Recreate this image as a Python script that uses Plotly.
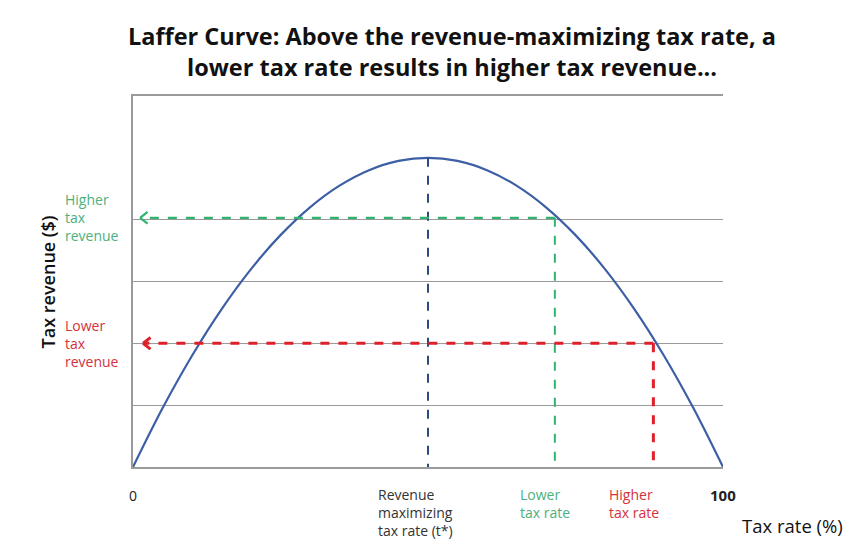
import plotly.graph_objects as go

# Laffer curve points (tax rate %, revenue units)
tax_rate = [0, 5, 10, 15, 20, 25, 30, 35, 40, 45, 50, 55, 60, 65, 70, 75, 80, 85, 90, 95, 100]
revenue = [0, 0.95, 1.8, 2.55, 3.2, 3.75, 4.2, 4.55, 4.8, 4.95, 5.0, 4.95, 4.8, 4.55, 4.2, 3.75, 3.2, 2.55, 1.8, 0.95, 0]

t_star = 50
peak_revenue = 5.0
lower_rate = 71.5
higher_revenue = 4.03
higher_rate = 88.2
lower_revenue = 2.0
green_head_x = 1.2
red_head_x = 1.7

grid_vals = [1, 2, 3, 4]

BLUE = "#3d5fa6"
NAVY = "#2f4a80"
GREEN = "#2fb36e"
RED = "#de2029"
GREEN_TXT = "#4cb07c"
RED_TXT = "#d4323c"
FONT = "Open Sans"

fig = go.Figure()

fig.add_trace(go.Scatter(x=tax_rate, y=revenue, mode="lines",
                         line=dict(color=BLUE, width=2.2, shape="spline"),
                         hoverinfo="skip"))
# t* vertical
fig.add_trace(go.Scatter(x=[t_star, t_star], y=[peak_revenue, 0], mode="lines",
                         line=dict(color=NAVY, width=2, dash="dash")))
# green lines
fig.add_trace(go.Scatter(x=[lower_rate, lower_rate], y=[higher_revenue, 0], mode="lines",
                         line=dict(color=GREEN, width=2, dash="dash")))
fig.add_trace(go.Scatter(x=[lower_rate, green_head_x], y=[higher_revenue, higher_revenue], mode="lines",
                         line=dict(color=GREEN, width=2.2, dash="dash")))
# red lines
fig.add_trace(go.Scatter(x=[higher_rate, higher_rate], y=[lower_revenue, 0], mode="lines",
                         line=dict(color=RED, width=3, dash="dash")))
fig.add_trace(go.Scatter(x=[higher_rate, red_head_x], y=[lower_revenue, lower_revenue], mode="lines",
                         line=dict(color=RED, width=3, dash="dash")))

annotations = []
# open chevron arrowheads
for hx, hy, col, w in [(green_head_x, higher_revenue, GREEN, 2.2), (red_head_x, lower_revenue, RED, 3)]:
    for dy in (-7, 7):
        annotations.append(dict(x=hx, y=hy, xref="x", yref="y", ax=9, ay=dy,
                                showarrow=True, arrowhead=0, arrowwidth=w, standoff=0,
                                arrowcolor=col, text=""))

small = dict(family=FONT, size=14)
# x labels
annotations.append(dict(x=0, y=0, xref="x", yref="paper", yanchor="top", yshift=-17,
                        text="0", showarrow=False, font=dict(family=FONT, size=14, color="#222")))
annotations.append(dict(x=100, y=0, xref="x", yref="paper", yanchor="top", yshift=-16,
                        text="<b>100</b>", showarrow=False, font=dict(family=FONT, size=15, color="#222")))
annotations.append(dict(x=t_star, y=0, xref="x", yref="paper", yanchor="top", yshift=-16,
                        xanchor="left", xshift=-52, align="left",
                        text="Revenue<br>maximizing<br>tax rate (t*)", showarrow=False,
                        font=dict(small, color="#333")))
annotations.append(dict(x=lower_rate, y=0, xref="x", yref="paper", yanchor="top", yshift=-16,
                        xanchor="left", xshift=-37,
                        text="Lower<br>tax rate", showarrow=False, align="left",
                        font=dict(small, color=GREEN_TXT)))
annotations.append(dict(x=higher_rate, y=0, xref="x", yref="paper", yanchor="top", yshift=-16,
                        xanchor="left", xshift=-46,
                        text="Higher<br>tax rate", showarrow=False, align="left",
                        font=dict(small, color=RED_TXT)))
# y side labels
annotations.append(dict(x=-0.118, y=higher_revenue, xref="paper", yref="y", xanchor="left",
                        yanchor="middle", align="left", text="Higher<br>tax<br>revenue",
                        showarrow=False, font=dict(small, color=GREEN_TXT)))
annotations.append(dict(x=-0.118, y=lower_revenue, xref="paper", yref="y", xanchor="left",
                        yanchor="middle", align="left", text="Lower<br>tax<br>revenue",
                        showarrow=False, font=dict(small, color=RED_TXT)))
# axis titles
annotations.append(dict(x=-0.168, y=0.5, xref="paper", yref="paper", textangle=-90,
                        text="Tax revenue ($)", showarrow=False,
                        font=dict(family=FONT, size=18, color="#111", weight=600)))
annotations.append(dict(x=1.028, y=0, xref="paper", yref="paper", xanchor="left", yanchor="top",
                        yshift=-44, text="Tax rate (%)", showarrow=False,
                        font=dict(family=FONT, size=18.5, color="#111")))

fig.update_layout(
    width=863, height=547,
    margin=dict(l=133, r=140, t=96, b=80),
    plot_bgcolor="white", paper_bgcolor="white",
    showlegend=False,
    title=dict(text="<b>Laffer Curve: Above the revenue-maximizing tax rate, a<br>lower tax rate results in higher tax revenue...</b>",
               x=452 / 863, xanchor="center", xref="container",
               y=1 - 45 / 547, yanchor="middle", yref="container",
               font=dict(family=FONT, size=23.5, color="#111")),
    xaxis=dict(range=[0, 100], showgrid=False, zeroline=False, showline=True, mirror=True,
               linecolor="#9a9a9a", linewidth=1.5, showticklabels=False, ticks=""),
    yaxis=dict(range=[0, 6], tickvals=grid_vals, showgrid=True, gridcolor="#9a9a9a",
               gridwidth=1.2, zeroline=False, showline=True, linecolor="#9a9a9a",
               linewidth=1.5, showticklabels=False, ticks=""),
    annotations=annotations,
)

fig.write_html("out.html")
